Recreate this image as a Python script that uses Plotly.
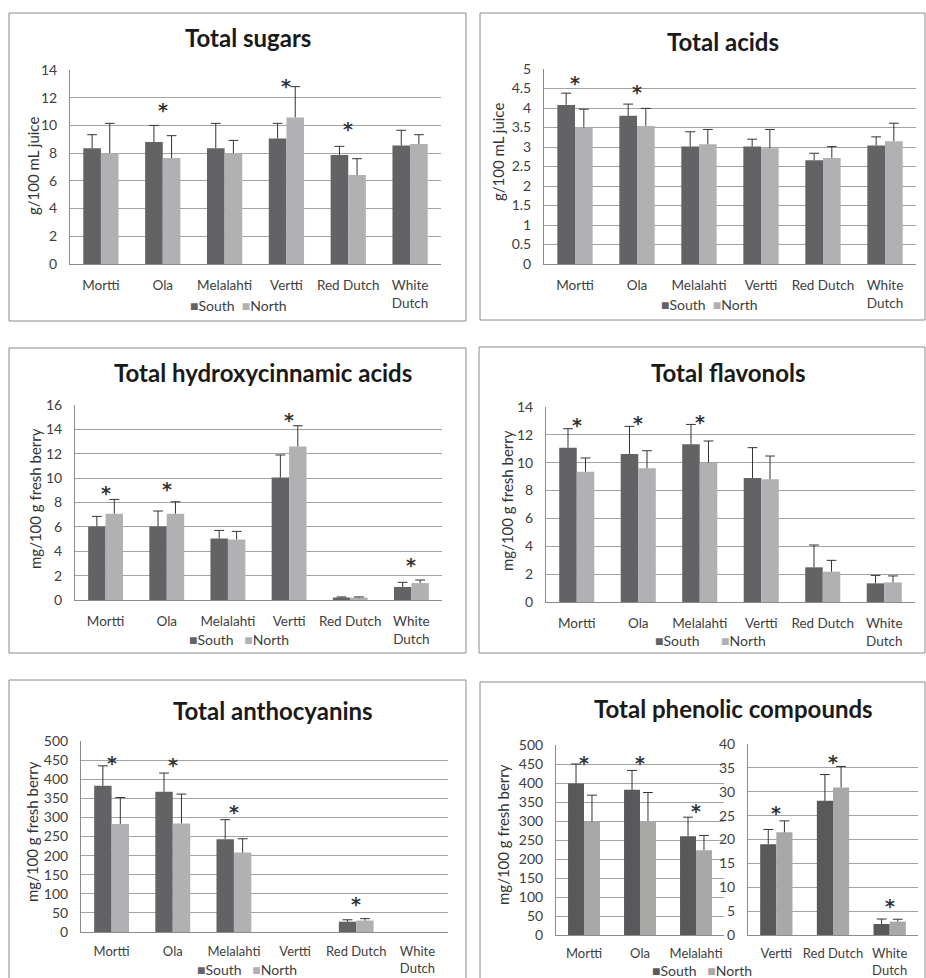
import plotly.graph_objects as go

# ---------------- data ----------------
cultivars = ["Mortti", "Ola", "Melalahti", "Vertti", "Red Dutch", "White Dutch"]
cultivar_ticks = ["Mortti", "Ola", "Melalahti", "Vertti", "Red Dutch", "White<br>Dutch"]

sugars_south = [8.35, 8.8, 8.35, 9.05, 7.87, 8.56]
sugars_south_err = [0.98, 1.2, 1.8, 1.1, 0.62, 1.09]
sugars_north = [8.0, 7.65, 8.0, 10.58, 6.42, 8.66]
sugars_north_err = [2.15, 1.61, 0.92, 2.22, 1.18, 0.67]
sugars_star = [None, 11.5, None, 13.2, 10.1, None]

acids_south = [4.08, 3.80, 3.01, 3.01, 2.66, 3.04]
acids_south_err = [0.30, 0.30, 0.38, 0.19, 0.18, 0.22]
acids_north = [3.50, 3.54, 3.07, 2.97, 2.72, 3.15]
acids_north_err = [0.47, 0.45, 0.38, 0.48, 0.29, 0.46]
acids_star = [4.76, 4.53, None, None, None, None]

hca_south = [6.04, 6.04, 5.05, 10.05, 0.2, 1.07]
hca_south_err = [0.82, 1.26, 0.66, 1.85, 0.05, 0.38]
hca_north = [7.08, 7.08, 4.97, 12.6, 0.2, 1.39]
hca_north_err = [1.17, 0.98, 0.66, 1.7, 0.05, 0.25]
hca_star = [9.2, 9.55, None, 15.2, None, 3.3]

flav_south = [11.08, 10.62, 11.32, 8.9, 2.49, 1.34]
flav_south_err = [1.36, 1.99, 1.43, 2.18, 1.6, 0.57]
flav_north = [9.36, 9.6, 10.0, 8.81, 2.18, 1.41]
flav_north_err = [0.98, 1.26, 1.56, 1.67, 0.81, 0.46]
flav_star = [13.05, 13.2, 13.28, None, None, None]

anth_south = [383, 367, 243, None, 27, None]
anth_south_err = [52, 49, 51, None, 5, None]
anth_north = [283, 284, 208, None, 30, None]
anth_north_err = [69, 77, 36, None, 5, None]
anth_star = [456, 449, 328, None, 86, None]

phen_hi_cultivars = ["Mortti", "Ola", "Melalahti"]
phen_hi_south = [399, 382, 260]
phen_hi_south_err = [51, 51, 50]
phen_hi_north = [298, 300, 223]
phen_hi_north_err = [70, 75, 39]
phen_hi_star = [465, 467, 340]

phen_lo_cultivars = ["Vertti", "Red Dutch", "White<br>Dutch"]
phen_lo_south = [19.0, 28.1, 2.3]
phen_lo_south_err = [3.1, 5.5, 1.05]
phen_lo_north = [21.5, 30.9, 2.8]
phen_lo_north_err = [2.4, 4.4, 0.5]
phen_lo_star = [26.7, 37.2, 7.2]

series_names = ["South", "North"]

# ---------------- layout helpers ----------------
W, H = 926, 978
def px(x):
    return x / W
def py(y):
    return 1 - y / H

FONT = "Lato"
TXT = "#404040"
GRID = "#a3a3a3"
BAR_W = 0.285

panels = [
    dict(k=1, dom=(70, 441, 70, 264), ticks=cultivar_ticks, rng=14, dt=2,
         s=sugars_south, se=sugars_south_err, n=sugars_north, ne=sugars_north_err,
         star=sugars_star, cols=("#636365", "#b1b1b3"), xf=13.5, xs=9),
    dict(k=2, dom=(544, 916, 69, 264), ticks=cultivar_ticks, rng=5, dt=0.5,
         s=acids_south, se=acids_south_err, n=acids_north, ne=acids_north_err,
         star=acids_star, cols=("#636365", "#b1b1b3"), xf=13.5, xs=9),
    dict(k=3, dom=(75, 442, 405, 600), ticks=cultivar_ticks, rng=16, dt=2,
         s=hca_south, se=hca_south_err, n=hca_north, ne=hca_north_err,
         star=hca_star, cols=("#636365", "#b1b1b3"), xf=13.5, xs=9),
    dict(k=4, dom=(546, 915, 407, 602), ticks=cultivar_ticks, rng=14, dt=2,
         s=flav_south, se=flav_south_err, n=flav_north, ne=flav_north_err,
         star=flav_star, cols=("#636365", "#b1b1b3"), xf=13.5, xs=9),
    dict(k=5, dom=(81, 448, 741, 932), ticks=cultivar_ticks, rng=500, dt=50,
         s=anth_south, se=anth_south_err, n=anth_north, ne=anth_north_err,
         star=anth_star, cols=("#636365", "#b1b1b3"), xf=13, xs=7),
    dict(k=6, dom=(556, 724, 745, 935), ticks=phen_hi_cultivars, rng=500, dt=50,
         s=phen_hi_south, se=phen_hi_south_err, n=phen_hi_north, ne=phen_hi_north_err,
         star=phen_hi_star, cols=("#59595b", "#a8a8a6"), xf=13, xs=6),
    dict(k=7, dom=(748, 918, 744, 935), ticks=phen_lo_cultivars, rng=40, dt=5,
         s=phen_lo_south, se=phen_lo_south_err, n=phen_lo_north, ne=phen_lo_north_err,
         star=phen_lo_star, cols=("#59595b", "#a8a8a6"), xf=13, xs=6),
]

fig = go.Figure()
annotations = []
layout_axes = {}

for p in panels:
    k = p["k"]
    xa, ya = ("x" if k == 1 else f"x{k}"), ("y" if k == 1 else f"y{k}")
    ncat = len(p["ticks"])
    idx = list(range(ncat))
    for j, (vals, errs) in enumerate([(p["s"], p["se"]), (p["n"], p["ne"])]):
        off = -BAR_W / 2 if j == 0 else BAR_W / 2
        xs = [i + off for i in idx]
        fig.add_trace(go.Bar(
            x=xs, y=vals, width=BAR_W, xaxis=xa, yaxis=ya,
            name=series_names[j], showlegend=False,
            marker=dict(color=p["cols"][j], line=dict(width=0)),
            error_y=dict(type="data", symmetric=False, array=errs,
                         arrayminus=[0] * ncat, width=0, thickness=1, color="#333333"),
        ))
        cx, cy = [], []
        for x, v, e in zip(xs, vals, errs):
            if v is not None and e is not None:
                cx.append(x)
                cy.append(v + e)
        fig.add_trace(go.Scatter(
            x=cx, y=cy, xaxis=xa, yaxis=ya, mode="markers", showlegend=False,
            hoverinfo="skip",
            marker=dict(symbol="line-ew", size=7, line=dict(width=1, color="#333333")),
        ))
    for i, s in enumerate(p["star"]):
        if s is None:
            continue
        annotations.append(dict(x=i, y=s, xref=xa, yref=ya, text="<b>*</b>", showarrow=False,
                                font=dict(family="DejaVu Sans", size=19, color="#333333"),
                                yanchor="middle", yshift=-5))
    x0, x1, y0, y1 = p["dom"]
    axname = "xaxis" if k == 1 else f"xaxis{k}"
    ayname = "yaxis" if k == 1 else f"yaxis{k}"
    layout_axes[axname] = dict(
        domain=[px(x0), px(x1)], anchor=ya, range=[-0.5, ncat - 0.5], automargin=False,
        tickmode="array", tickvals=idx, ticktext=p["ticks"],
        showgrid=False, zeroline=False, showline=True, linecolor="#8c8c8c", linewidth=1,
        ticks="", ticklabelstandoff=p["xs"],
        tickfont=dict(family=FONT, size=p["xf"], color=TXT), fixedrange=True,
    )
    layout_axes[ayname] = dict(
        domain=[py(y1), py(y0)], anchor=xa, range=[0, p["rng"]], dtick=p["dt"],
        automargin=False,
        showgrid=True, gridcolor=GRID, gridwidth=1, zeroline=False,
        showline=True, linecolor="#8c8c8c", linewidth=1, ticks="", ticklabelstandoff=9,
        tickfont=dict(family=FONT, size=14, color=TXT), fixedrange=True,
    )

# titles
titles = [
    ("Total sugars", 248, 38),
    ("Total acids", 723, 42),
    ("Total hydroxycinnamic acids", 263, 373),
    ("Total flavonols", 728, 372),
    ("Total anthocyanins", 273, 710),
    ("Total phenolic compounds", 733, 708),
]
for t, x, y in titles:
    annotations.append(dict(x=px(x), y=py(y), xref="paper", yref="paper", text=f"<b>{t}</b>",
                            showarrow=False, xanchor="center", yanchor="middle",
                            font=dict(family=FONT, size=24, color="#1a1a1a")))

# y axis titles
ytitles = [
    ("g/100 mL juice", 33, 166),
    ("g/100 mL juice", 498, 152),
    ("mg/100 g fresh berry", 35, 499),
    ("mg/100 g fresh berry", 507, 500),
    ("mg/100 g fresh berry", 32, 832),
    ("mg/100 g fresh berry", 503, 835),
]
for t, x, y in ytitles:
    annotations.append(dict(x=px(x), y=py(y), xref="paper", yref="paper", text=t,
                            showarrow=False, textangle=-90, xanchor="center", yanchor="middle",
                            font=dict(family=FONT, size=15, color="#333333")))

# legends (South / North) per panel: left x, y, spaces between entries, colours
legends = [
    (188, 306, 2, ("#636365", "#b1b1b3")),
    (659, 304, 2, ("#636365", "#b1b1b3")),
    (187, 639, 3, ("#636365", "#b1b1b3")),
    (653, 640, 6, ("#636365", "#b1b1b3")),
    (195, 969, 3, ("#636365", "#b1b1b3")),
    (650, 970, 3, ("#59595b", "#a8a8a6")),
]
NB = "\u00a0"
for xx, y, gap, cols in legends:
    txt = (f"<span style='color:{cols[0]}'>■</span>{series_names[0]}{NB * gap}"
           f"<span style='color:{cols[1]}'>■</span>{series_names[1]}")
    annotations.append(dict(x=px(xx), y=py(y), xref="paper", yref="paper", text=txt,
                            showarrow=False, xanchor="left", yanchor="middle",
                            font=dict(family=FONT, size=14, color=TXT)))

# panel frames
frames = [(9, 466, 13, 321), (480, 925, 13, 320), (9, 466, 348, 653),
          (479, 925, 347, 653), (9, 466, 680, 995), (480, 925, 682, 995)]
shapes = [dict(type="rect", xref="paper", yref="paper", x0=px(a), x1=px(b), y0=py(d), y1=py(c),
               line=dict(color="#8a8a8a", width=1), fillcolor="rgba(0,0,0,0)", layer="below")
          for a, b, c, d in frames]

fig.update_layout(
    width=W, height=H, margin=dict(l=0, r=0, t=0, b=0, autoexpand=False),
    paper_bgcolor="white", plot_bgcolor="white",
    barmode="overlay", showlegend=False,
    annotations=annotations, shapes=shapes,
    font=dict(family=FONT, color=TXT),
    **layout_axes,
)

fig.write_html(
    "out.html",
    config={"displayModeBar": False},
    post_script="document.body.style.margin='0';document.body.style.overflow='hidden';",
)
